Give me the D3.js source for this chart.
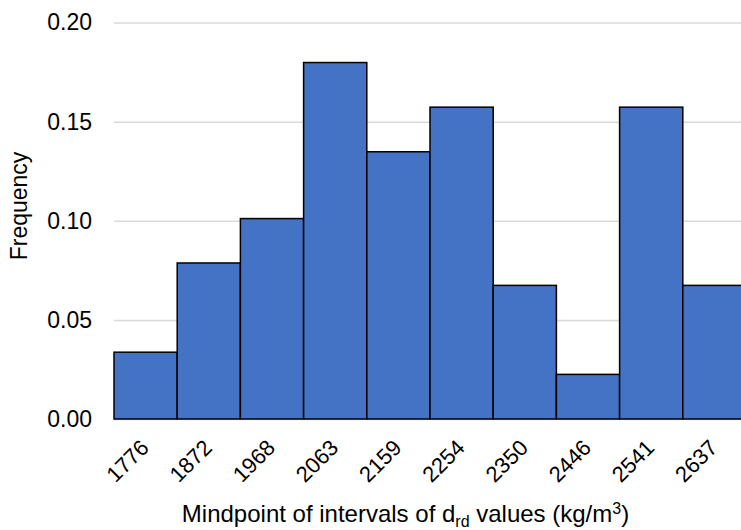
<!DOCTYPE html>
<html>
<head>
<meta charset="utf-8">
<script src="https://cdn.jsdelivr.net/npm/d3@7"></script>
<style>
  body { margin: 0; background: #fff; }
  svg { display: block; }
</style>
</head>
<body>
<div id="chart"></div>
<script>
// histogram of d_rd midpoints (kg/m3), relative frequency
var midpoints = ["1776", "1872", "1968", "2063", "2159", "2254", "2350", "2446", "2541", "2637"];
var frequency = [0.0337, 0.0787, 0.1011, 0.1798, 0.1348, 0.1573, 0.0674, 0.0225, 0.1573, 0.0674];
var yTicks = [0, 0.05, 0.10, 0.15, 0.20];

function drawHistogram(w, h) {
    var plot = {left: 114, right: 746, top: 22.5, bottom: 419};

    var svg = d3.select('#chart')
        .append('svg')
        .attr('width', w)
        .attr('height', h)
        .style('font-family', '"Liberation Sans", Arial, sans-serif');

    var x = d3.scaleBand()
        .domain(midpoints)
        .range([plot.left, plot.right])
        .padding(0);

    var y = d3.scaleLinear()
        .domain([0, 0.2])
        .range([plot.bottom, plot.top]);

    // gridlines + y labels
    var yAxis = d3.axisLeft(y)
        .tickValues(yTicks)
        .tickSize(-(w - plot.left))
        .tickPadding(22)
        .tickFormat(d3.format('.2f'));

    var gy = svg.append('g')
        .attr('transform', 'translate(' + plot.left + ',0)')
        .call(yAxis);
    gy.select('.domain').remove();
    gy.selectAll('.tick line')
        .attr('stroke', '#d9d9d9')
        .attr('stroke-width', 1.5);
    gy.selectAll('.tick text')
        .attr('fill', '#000')
        .style('font-size', '23px');

    // bars
    svg.append('g').selectAll('rect')
        .data(frequency)
        .enter().append('rect')
        .attr('x', function (d, i) { return x(midpoints[i]); })
        .attr('y', function (d) { return y(d); })
        .attr('width', x.bandwidth())
        .attr('height', function (d) { return y(0) - y(d); })
        .attr('fill', '#4472c4')
        .attr('stroke', '#000')
        .attr('stroke-width', 1.5);

    // x labels, rotated
    var xAxis = d3.axisBottom(x).tickSize(0).tickPadding(0);
    var gx = svg.append('g')
        .attr('transform', 'translate(0,' + plot.bottom + ')')
        .call(xAxis);
    gx.select('.domain').remove();
    gx.selectAll('.tick text')
        .attr('fill', '#000')
        .style('font-size', '22px')
        .attr('text-anchor', 'end')
        .attr('dy', null)
        .attr('y', null)
        .attr('transform', 'translate(4.5,30) rotate(-45)');

    // axis titles
    svg.append('text')
        .attr('transform', 'translate(26.5,206) rotate(-90)')
        .attr('text-anchor', 'middle')
        .style('font-size', '23px')
        .text('Frequency');

    var title = svg.append('text')
        .attr('x', 405.5)
        .attr('y', 521.5)
        .attr('text-anchor', 'middle')
        .style('font-size', '24px');
    title.append('tspan').text('Mindpoint of intervals of d');
    title.append('tspan').attr('dy', 5).style('font-size', '16px').text('rd');
    title.append('tspan').attr('dy', -5).text(' values (kg/m');
    title.append('tspan').attr('dy', -8).style('font-size', '16px').text('3');
    title.append('tspan').attr('dy', 8).text(')');
}

drawHistogram(741, 530);
</script>
</body>
</html>
